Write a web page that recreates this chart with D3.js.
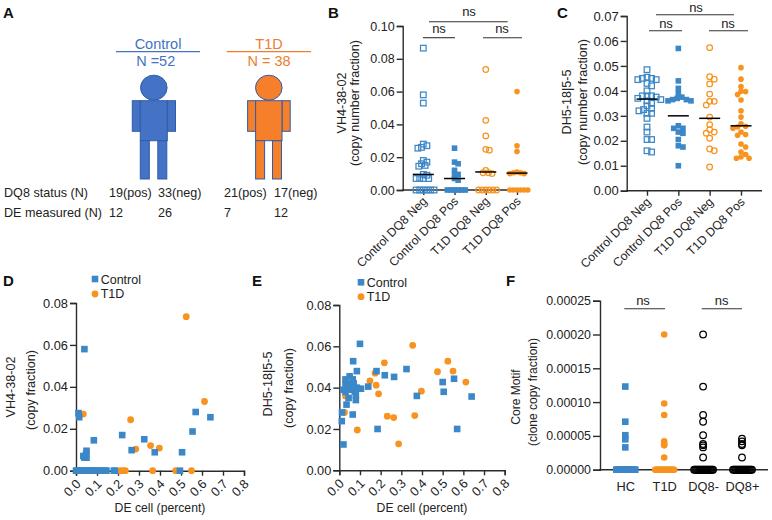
<!DOCTYPE html>
<html><head><meta charset="utf-8">
<script src="https://cdn.jsdelivr.net/npm/d3@7/dist/d3.min.js"></script>
<style>html,body{margin:0;padding:0;background:#fff}svg{display:block}text{font-family:"Liberation Sans",Arial,sans-serif;fill:#222}</style>
</head><body><svg id="c" width="772" height="520"></svg>
<script>
const zeros = n => Array(n).fill(0);
const groupLabels = ["Control DQ8 Neg","Control DQ8 Pos","T1D DQ8 Neg","T1D DQ8 Pos"];
const bCtrlNeg = [0.0865,0.058,0.053,0.028,0.027,0.026,0.0255,0.018,0.017,0.016,0.015,0.0145,0.0095,0.009,0.007,0.007,0.007,0.007,...zeros(6)];
const bCtrlPos = [0.0255,0.017,0.016,0.012,0.0095,0.0095,0.007,0.006,...zeros(6)];
const bT1dNeg = [0.0735,0.0425,0.033,0.0248,0.0243,0.012,0.0105,0.0105,0.01,...zeros(6)];
const bT1dPos = [0.06,0.027,0.0235,0.011,0.0105,0.0105,0.01,0.01,...zeros(6)];
const bMedians = [0.0095,0.007,0.011,0.0103];
const bTicks = [0,0.02,0.04,0.06,0.08,0.1];
const cCtrlNeg = [0.0485,0.0455,0.045,0.045,0.0445,0.0445,0.043,0.042,0.04,0.038,0.038,0.038,0.0375,0.037,0.0365,0.036,0.035,0.034,0.033,0.0325,0.032,0.031,0.031,0.029,0.0255,0.0235,0.0205,0.0205,0.016,0.0155];
const cCtrlPos = [0.057,0.044,0.041,0.039,0.0375,0.037,0.0365,0.0365,0.036,0.036,0.026,0.025,0.025,0.0235,0.023,0.0205,0.018,0.0175,0.01];
const cT1dNeg = [0.0573,0.0457,0.0447,0.0428,0.0387,0.0358,0.0358,0.0343,0.0295,0.0265,0.0245,0.0235,0.023,0.021,0.0167,0.016,0.0095];
const cT1dPos = [0.0493,0.0447,0.0417,0.0398,0.0397,0.0385,0.0363,0.032,0.0295,0.0268,0.0258,0.0255,0.025,0.0235,0.0225,0.0222,0.0187,0.0175,0.0155,0.0145,0.0135,0.013,0.013];
const cMedians = [0.0367,0.03,0.029,0.026];
const cTicks = [0,0.01,0.02,0.03,0.04,0.05,0.06,0.07];
const deTicks = [0,0.1,0.2,0.3,0.4,0.5,0.6,0.7,0.8];
const fracTicks = [0,0.02,0.04,0.06,0.08];
const dCtrlX = [0.04,0.012,0.015,0.05,0.085,0.22,0.265,0.325,0.375,0.505,0.555,0.57,0.64,0.035,0.04,0.05,0.048,0,0.005,0.01,0.015,0.02,0.03,0.04,0.05,0.06,0.065,0.07,0.08,0.09,0.1,0.11,0.12,0.13,0.14,0.145,0.18,0.185,0.495];
const dCtrlY = [0.058,0.0275,0.0255,0.0095,0.0145,0.017,0.0098,0.015,0.0088,0.0088,0.0187,0.028,0.0255,0.007,0.0062,0.0062,0.008,0,0,0,0,0,0,0,0,0,0,0,0,0,0,0,0,0,0,0,0,0,0];
const dT1dX = [0.525,0.035,0.26,0.612,0.285,0.355,0.397,0.21,0.225,0.235,0.365,0.475,0.55];
const dT1dY = [0.0735,0.027,0.0243,0.033,0.0103,0.012,0.0108,0,0,0,0,0,0];
const eCtrlX = [0.1,0.067,0.085,0.18,0.22,0.265,0.325,0.375,0.5,0.505,0.555,0.64,0.57,0.185,0.065,0.02,0.012,0.013,0.035,0.045,0.08,0.03,0.05,0.065,0.03,0.04,0.055,0.07,0.02,0.03,0.04,0.06,0.075,0.085,0.105,0.14,0.08,0.07];
const eCtrlY = [0.0612,0.0528,0.048,0.048,0.046,0.0452,0.049,0.036,0.0427,0.038,0.0443,0.0357,0.02,0.02,0.027,0.0125,0.0238,0.028,0.0318,0.035,0.034,0.044,0.0455,0.044,0.042,0.041,0.042,0.042,0.039,0.038,0.04,0.039,0.038,0.04,0.0395,0.0405,0.0365,0.04];
const eT1dX = [0.355,0.218,0.525,0.475,0.55,0.612,0.173,0.148,0.178,0.19,0.397,0.365,0.232,0.263,0.087,0.287,0.03,0.025];
const eT1dY = [0.0605,0.052,0.0528,0.0477,0.048,0.0427,0.047,0.0433,0.0412,0.037,0.0383,0.0265,0.0262,0.0255,0.0195,0.0128,0.036,0.028];
const fLabels = ["HC","T1D","DQ8-","DQ8+"];
const fHC = [0.000123,0.000071,0.000051,0.000045,0.000033,...zeros(20)];
const fT1D = [0.0002,0.000098,0.000081,0.000042,0.000038,0.000036,0.000018,...zeros(20)];
const fDQneg = [0.0002,0.000123,0.000081,0.000071,0.000051,0.000038,0.000036,0.000033,0.000018,...zeros(20)];
const fDQpos = [0.000046,0.000042,0.000038,0.000036,0.000018,...zeros(20)];
const fTicks = [0,0.00005,0.0001,0.00015,0.0002,0.00025];
const tableRows = [["DQ8 status (N)","19(pos)","33(neg)","21(pos)","17(neg)"],["DE measured (N)","12","26","7","12"]];

const BLUE="#3b87c7", ORANGE="#f7931e", INK="#2b2b2b";
const svg=d3.select("#c");
function txt(x,y,s,o={}){const t=svg.append("text").attr("x",x).attr("y",y).text(s)
  .attr("font-size",o.size||12).attr("text-anchor",o.anchor||"start");
  if(o.color)t.style("fill",o.color); if(o.bold)t.attr("font-weight","bold");
  if(o.rot!=null)t.attr("transform",`rotate(${o.rot} ${x} ${y})`); return t;}
function ln(x1,y1,x2,y2,c=INK,w=1.3){svg.append("line").attr("x1",x1).attr("y1",y1).attr("x2",x2).attr("y2",y2).attr("stroke",c).attr("stroke-width",w);}
[["A",3,18],["B",328,18],["C",557,18],["D",3,286],["E",252,286],["F",506,286]].forEach(d=>txt(d[1],d[2],d[0],{size:15,bold:true,color:"#111"}));

// Panel A
function person(cx,bodyW,fill,stroke){
  const g=svg.append("g").attr("fill",fill).attr("stroke",stroke).attr("stroke-width",1);
  const L=cx-bodyW/2,R=cx+bodyW/2;
  g.append("rect").attr("x",L-8).attr("y",100.7).attr("width",8).attr("height",30.6);
  g.append("rect").attr("x",R).attr("y",100.7).attr("width",8.2).attr("height",30.6);
  g.append("rect").attr("x",L).attr("y",100.7).attr("width",bodyW).attr("height",40);
  g.append("rect").attr("x",L).attr("y",140.7).attr("width",9).attr("height",38.3);
  g.append("rect").attr("x",R-9.5).attr("y",140.7).attr("width",9).attr("height",38.3);
  g.append("ellipse").attr("cx",cx).attr("cy",87.7).attr("rx",13.3).attr("ry",12.5);
}
person(153.8,27,"#4472c4","#2f5da8");
person(268.8,26.4,"#f57f2b","#2f5da8");
const CB="#4472c4",CO="#ed7d31";
txt(158,49,"Control",{size:14.5,anchor:"middle",color:CB});
ln(116,51.7,200,51.7,CB,1.2);
txt(155.7,66,"N =52",{size:14.5,anchor:"middle",color:CB});
txt(269,49,"T1D",{size:14.5,anchor:"middle",color:CO});
ln(226.7,51.7,311,51.7,CO,1.2);
txt(269,66,"N = 38",{size:14.5,anchor:"middle",color:CO});
const colX=[4,109,158,224,274], rowY=[197,217];
tableRows.forEach((r,i)=>r.forEach((s,j)=>txt(colX[j],rowY[i],s,{size:12.6,color:"#222"})));

// helpers
function swarm(vals,y,d){
  const placed=[];
  return vals.map(v=>{
    const py=y(v); let k=0,off=0;
    for(;;){
      off=(k%2?1:-1)*Math.ceil(k/2)*d/4;
      if(!placed.some(p=>Math.hypot(p[0]-off,p[1]-py)<d-1e-6))break;
      k++;
    }
    placed.push([off,py]); return off;
  });
}
function yAxis(x0,y,ticks,fmt,size,tl=6){
  const g=svg.append("g").attr("transform",`translate(${x0},0)`).call(d3.axisLeft(y).tickValues(ticks).tickFormat(d3.format(fmt)).tickSizeOuter(0).tickSize(tl).tickPadding(2));
  g.selectAll("path,line").attr("stroke",INK).attr("stroke-width",1.4);
  g.selectAll("text").attr("font-size",size).style("font-family",'"Liberation Sans",Arial,sans-serif');
}
function catAxis(x,y0,x0,x1,rot,size,tl){
  const g=svg.append("g").attr("transform",`translate(0,${y0})`).call(d3.axisBottom(x).tickSizeOuter(0).tickSize(tl));
  g.select(".domain").remove();
  g.selectAll("line").attr("stroke",INK).attr("stroke-width",1.4);
  const t=g.selectAll("text").attr("font-size",size).style("font-family",'"Liberation Sans",Arial,sans-serif');
  if(rot) t.attr("text-anchor","end").attr("dx",0).attr("dy",0).attr("y",0).attr("transform","translate(4,12) rotate(-45)");
  else t.attr("y",12);
  ln(x0-.7,y0,x1,y0,INK,1.4);
}
function mark(g,kind,cx,cy,s,color,open){
  if(kind==="sq"){
    g.append("rect").attr("x",cx-s/2).attr("y",cy-s/2).attr("width",s).attr("height",s)
     .attr("fill",open?"none":color).attr("stroke",open?color:"none").attr("stroke-width",open?1.25:0);
  } else {
    g.append("circle").attr("cx",cx).attr("cy",cy).attr("r",s/2)
     .attr("fill",open?"none":color).attr("stroke",open?color:"none").attr("stroke-width",open?1.25:0);
  }
}
const styles=[["sq",BLUE,true],["sq",BLUE,false],["ci",ORANGE,true],["ci",ORANGE,false]];
function dotPanel(o){
  const y=d3.scaleLinear().domain(o.dom).range(o.yr);
  const x=d3.scalePoint().domain(o.labels).range(o.xr);
  yAxis(o.ax,y,o.ticks,o.fmt,o.tsize,o.tl||6);
  catAxis(x,o.yr[0],o.ax,o.end,o.rot,o.xsize,o.rot?5:0);
  const g=svg.append("g");
  o.series.forEach((vals,i)=>{
    const off=swarm(vals,y,o.d), st=o.styles[i];
    vals.forEach((v,j)=>mark(g,st[0],x(o.labels[i])+off[j],y(v),o.ms,st[1],st[2]));
    if(o.medians) ln(x(o.labels[i])-o.mw,y(o.medians[i]),x(o.labels[i])+o.mw,y(o.medians[i]),"#000",1.5);
  });
}
function bracket(x1,x2,y,cx,ty){ln(x1,y,x2,y,"#333",1.1);txt(cx,ty,"ns",{size:13,anchor:"middle"});}

// B
dotPanel({dom:[0,0.1],yr:[190,26],labels:groupLabels,xr:[423.3,517],ax:402.7,end:528,ticks:bTicks,fmt:".2f",tsize:12.5,xsize:12.2,rot:true,series:[bCtrlNeg,bCtrlPos,bT1dNeg,bT1dPos],styles,d:3.6,ms:5.6,medians:bMedians,mw:10.5});
txt(342,103,"VH4-38-02",{size:12.6,anchor:"middle",rot:-90}).attr("dy","0.35em");
txt(355,103,"(copy number fraction)",{size:12.6,anchor:"middle",rot:-90}).attr("dy","0.35em");
bracket(429,507.7,21.7,469,16);bracket(423,455,37.7,439,33);bracket(483,522,37.7,502,33);

// C
dotPanel({dom:[0,0.07],yr:[190.7,16],labels:groupLabels,xr:[647,741],ax:626.7,end:762,ticks:cTicks,fmt:".2f",tsize:13,xsize:12.2,rot:true,series:[cCtrlNeg,cCtrlPos,cT1dNeg,cT1dPos],styles,d:4.6,ms:5.6,medians:cMedians,mw:10.5});
txt(567,102,"DH5-18|5-5",{size:12.6,anchor:"middle",rot:-90}).attr("dy","0.35em");
txt(583,102,"(copy number fraction)",{size:12.6,anchor:"middle",rot:-90}).attr("dy","0.35em");
bracket(656,734,14.7,696,12);bracket(649,682,30.7,666,28);bracket(709,748,30.7,728,28);

// scatter
function scatter(o){
  const x=d3.scaleLinear().domain([0,0.8]).range(o.xr), y=d3.scaleLinear().domain([0,0.08]).range(o.yr);
  yAxis(o.xr[0],y,fracTicks,".2f",12.8);
  const gx=svg.append("g").attr("transform",`translate(0,${o.yr[0]})`).call(d3.axisBottom(x).tickValues(deTicks).tickFormat(d3.format(".1f")).tickSizeOuter(0).tickSize(5));
  gx.selectAll("path,line").attr("stroke",INK).attr("stroke-width",1.4);
  gx.selectAll("text").attr("font-size",12.8).style("font-family",'"Liberation Sans",Arial,sans-serif').attr("text-anchor","end").attr("y",0).attr("dy",0).attr("transform","translate(5,14) rotate(-45)");
  const g=svg.append("g");
  o.oy.forEach((v,i)=>mark(g,"ci",x(o.ox[i]),y(v),6.8,ORANGE,false));
  o.by.forEach((v,i)=>mark(g,"sq",x(o.bx[i]),y(v),6.6,BLUE,false));
}
scatter({xr:[76,244],yr:[470.7,303],bx:dCtrlX,by:dCtrlY,ox:dT1dX,oy:dT1dY});
scatter({xr:[339.3,504.7],yr:[470.3,305],bx:eCtrlX,by:eCtrlY,ox:eT1dX,oy:eT1dY});
function legend(sx,y1,y2,tx,b1,b2,fs){
  mark(svg,"sq",sx,y1,6.6,BLUE,false);mark(svg,"ci",sx,y2,6.8,ORANGE,false);
  txt(tx,b1,"Control",{size:fs});txt(tx,b2,"T1D",{size:fs});
}
legend(95,279,294,100.7,283.5,298,12.5);
legend(361,282.3,296.7,366.7,286.5,300.5,12.5);
txt(160,512,"DE cell (percent)",{size:12.2,anchor:"middle"});
txt(422,512,"DE cell (percent)",{size:12.2,anchor:"middle"});
txt(11,387,"VH4-38-02",{size:12.6,anchor:"middle",rot:-90}).attr("dy","0.35em");
txt(31,390,"(copy fraction)",{size:12.6,anchor:"middle",rot:-90}).attr("dy","0.35em");
txt(268,384,"DH5-18|5-5",{size:12.6,anchor:"middle",rot:-90}).attr("dy","0.35em");
txt(289,388,"(copy fraction)",{size:12.6,anchor:"middle",rot:-90}).attr("dy","0.35em");

// F
dotPanel({dom:[0,0.00025],yr:[469.7,300.7],labels:fLabels,xr:[625.3,742],ax:600,end:768,ticks:fTicks,fmt:".5f",tsize:12.4,xsize:12.8,rot:false,tl:7,series:[fHC,fT1D,fDQneg,fDQpos],styles:[["sq",BLUE,false],["ci",ORANGE,false],["ci","#000",true],["ci","#000",true]],d:1,ms:6.6});
txt(516,397,"Core Motif",{size:12,anchor:"middle",rot:-90}).attr("dy","0.35em");
txt(533,392,"(clone copy fraction)",{size:12,anchor:"middle",rot:-90}).attr("dy","0.35em");
bracket(624.3,665,308.7,643,305);bracket(701.7,742,308.7,721.7,305);
</script></body></html>
